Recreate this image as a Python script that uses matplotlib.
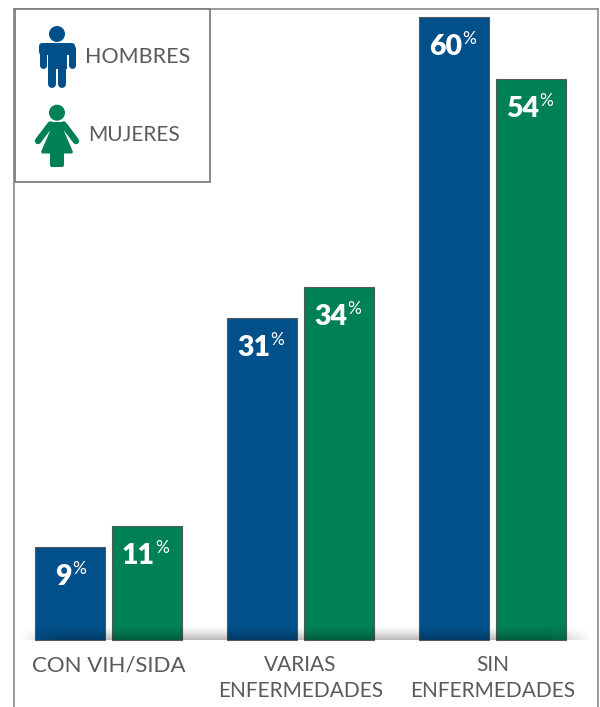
import numpy as np
import matplotlib
matplotlib.use('Agg')
import matplotlib.pyplot as plt
from matplotlib.patches import Circle, Polygon, Rectangle, FancyBboxPatch

plt.rcParams['font.family'] = ['Lato', 'DejaVu Sans']

categories = ['CON VIH/SIDA', 'VARIAS\nENFERMEDADES', 'SIN\nENFERMEDADES']
hombres = [9, 31, 60]
mujeres = [11, 34, 54]
series_names = ['HOMBRES', 'MUJERES']

BLUE = '#02508a'
GREEN = '#008057'
GREY = '#5a5a5a'
FRAME = '#7f7f7f'


def label_bar(ax, x, value):
    # number and small percent sign sit together under the top of the bar
    shift = 2 if value < 10 else 8
    ax.annotate(str(value), (x, value), xytext=(shift * 0.72, -38 * 0.72),
                textcoords='offset points', ha='right', va='baseline',
                color='white', fontsize=20.5, fontweight='heavy', zorder=6)
    ax.annotate('%', (x, value), xytext=(shift * 0.72, -27 * 0.72),
                textcoords='offset points', ha='left', va='baseline',
                color='white', fontsize=12.5, zorder=6)


def draw_man(ax, color):
    ax.add_patch(Circle((57, 34), 8, color=color, lw=0))
    ax.add_patch(FancyBboxPatch((42, 46), 30, 6, boxstyle='round,pad=0,rounding_size=0',
                                fc=color, ec=color, lw=6 * 0.72, joinstyle='round'))
    ax.plot([42.5, 42.5], [48, 64.5], color=color, lw=7 * 0.72, solid_capstyle='round')
    ax.plot([71.5, 71.5], [48, 64.5], color=color, lw=7 * 0.72, solid_capstyle='round')
    ax.add_patch(Rectangle((47.7, 46), 19, 23, color=color, lw=0))
    ax.plot([52, 52], [66, 84], color=color, lw=8 * 0.72, solid_capstyle='round')
    ax.plot([62, 62], [66, 84], color=color, lw=8 * 0.72, solid_capstyle='round')


def draw_woman(ax, color):
    ax.add_patch(Circle((57, 112.7), 8, color=color, lw=0))
    ax.add_patch(Polygon([(50, 122), (64, 122), (64, 131), (73, 152), (72, 153.5),
                          (42, 153.5), (41, 152), (50, 131)], closed=True, color=color, lw=0))
    ax.plot([50.5, 38], [124.5, 141], color=color, lw=6.5 * 0.72, solid_capstyle='round')
    ax.plot([63.5, 76], [124.5, 141], color=color, lw=6.5 * 0.72, solid_capstyle='round')
    ax.add_patch(FancyBboxPatch((50, 150), 14, 17, boxstyle='round,pad=0,rounding_size=2',
                                fc=color, ec='none', lw=0))


fig = plt.figure(figsize=(6, 7.07), dpi=100)
ax = fig.add_axes([14 / 600, 0, 584 / 600, 698.5 / 707])

x = np.arange(len(categories))
width = 0.365
offset = 0.2
ax.bar(x - offset, hombres, width, color=BLUE, edgecolor='#4f5a62', linewidth=0.8, zorder=2)
ax.bar(x + offset, mujeres, width, color=GREEN, edgecolor='#4f5a62', linewidth=0.8, zorder=2)

# soft shadow along the base of the bars
alpha = np.linspace(0, 0.42, 30)[:, None] ** 1.5 * np.clip(np.sin(np.linspace(0, np.pi, 300)) * 4, 0, 1)[None, :]
shadow = np.zeros(alpha.shape + (4,))
shadow[..., 3] = alpha
ax.imshow(shadow, extent=(-0.47, 2.53, 0, 1.5), origin='upper', aspect='auto', zorder=3)

ax.set_xlim(-0.492, 2.55)
ax.set_ylim(-6.45, 60.8)

for i in x:
    label_bar(ax, i - offset, hombres[i])
    label_bar(ax, i + offset, mujeres[i])
    lines = categories[i].split('\n')
    for j, line in enumerate(lines):
        # the single line label is set a little wider in the reference
        ax.annotate(line, (i, 0), xytext=(0, -(31 + 26 * j) * 0.72), textcoords='offset points',
                    ha='center', va='baseline', color=GREY, fontsize=16 if len(lines) == 1 else 15)

ax.set_xticks([])
ax.set_yticks([])
ax.spines['bottom'].set_visible(False)
for side in ['left', 'right', 'top']:
    ax.spines[side].set_color(FRAME)
    ax.spines[side].set_linewidth(1.1)

# legend box and its pictograms, in pixel coordinates of the figure
leg = fig.add_axes([0, 0, 1, 1], zorder=5)
leg.set_xlim(0, 600)
leg.set_ylim(707, 0)
leg.axis('off')
leg.add_patch(Rectangle((15, 9), 195, 173, fc='white', ec=FRAME, lw=1.3))
draw_man(leg, BLUE)
draw_woman(leg, GREEN)
leg.text(85, 63, series_names[0], color=GREY, fontsize=15.5, ha='left', va='baseline')
leg.text(88, 141, series_names[1], color=GREY, fontsize=15, ha='left', va='baseline')

plt.savefig('out.png', dpi=100)
plt.close()
